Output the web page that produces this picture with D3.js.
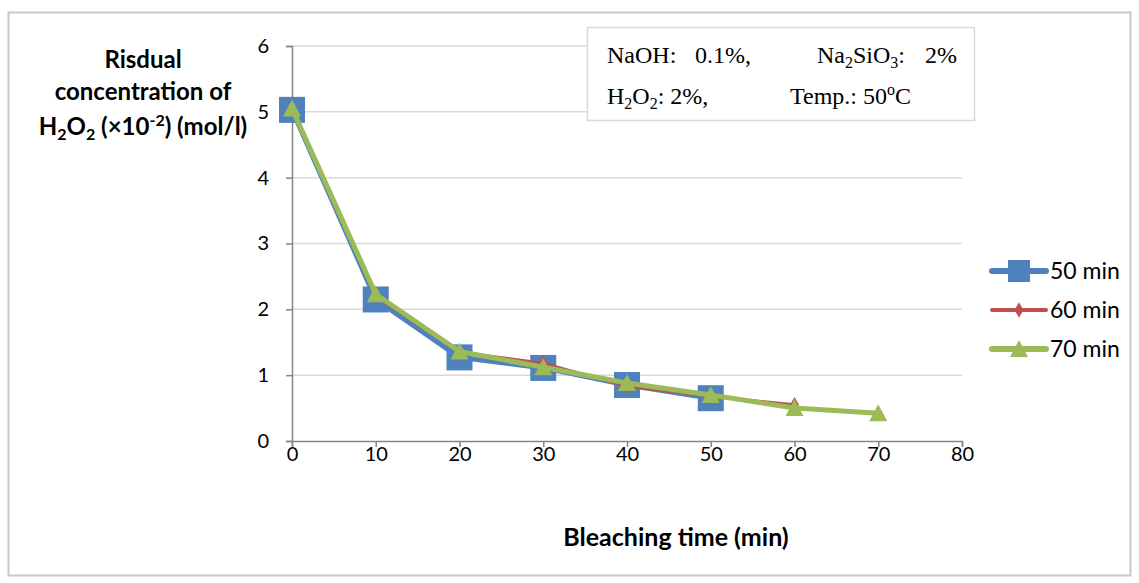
<!DOCTYPE html>
<html>
<head>
<meta charset="utf-8">
<script src="https://cdn.jsdelivr.net/npm/d3@7"></script>
<style>
  body { margin: 0; background: #fff; }
  svg { display: block; }
</style>
</head>
<body>
<svg class="chart" width="1139" height="583"></svg>
<script>
// data
const times = [0, 10, 20, 30, 40, 50, 60, 70];
const series50 = [5.03, 2.15, 1.27, 1.11, 0.85, 0.65];
const series60 = [5.05, 2.2, 1.35, 1.18, 0.83, 0.68, 0.55];
const series70 = [5.05, 2.23, 1.36, 1.12, 0.88, 0.7, 0.5, 0.42];
const seriesNames = ['50 min', '60 min', '70 min'];
const xTicks = [0, 10, 20, 30, 40, 50, 60, 70, 80];
const yTicks = [0, 1, 2, 3, 4, 5, 6];

const svg = d3.select('svg.chart');
const font = 'Lato, "Open Sans", sans-serif';

// outer frame
svg.append('rect')
  .attr('x', 8.5).attr('y', 12.5)
  .attr('width', 1122).attr('height', 563)
  .style('fill', 'none').style('stroke', '#c8c8c8').style('stroke-width', 2);

const x = d3.scaleLinear().domain([0, 80]).range([292, 962]);
const y = d3.scaleLinear().domain([0, 6]).range([441, 46]);

// gridlines
svg.append('g').selectAll('line')
  .data(yTicks.filter(d => d > 0))
  .enter().append('line')
  .attr('x1', x(0)).attr('x2', x(80))
  .attr('y1', d => y(d)).attr('y2', d => y(d))
  .style('stroke', '#d9d9d9').style('stroke-width', 1.5);

// axes
const yAxis = d3.axisLeft(y).tickValues(yTicks).tickSize(6).tickPadding(17).tickFormat(d3.format('d'));
const xAxis = d3.axisBottom(x).tickValues(xTicks).tickSize(6).tickPadding(-1).tickFormat(d3.format('d'));

const gy = svg.append('g').attr('transform', 'translate(' + x(0) + ',0)').call(yAxis);
const gx = svg.append('g').attr('transform', 'translate(0,' + y(0) + ')').call(xAxis);

[gx, gy].forEach(g => {
  g.select('.domain').style('stroke', '#868686').style('stroke-width', 1.5);
  g.selectAll('.tick line').style('stroke', '#868686').style('stroke-width', 1.5);
  g.selectAll('.tick text')
    .style('font-family', font).style('font-size', '20px').style('fill', '#000');
});
gx.selectAll('.tick text').attr('y', 6);

// series
const colors = ['#4f81bd', '#c0504d', '#9bbb59'];
const widths = [5, 3, 5];
const allSeries = [series50, series60, series70];

const line = d3.line()
  .x((d, i) => x(times[i]))
  .y(d => y(d));

function drawMarker(g, kind, color, cx, cy) {
  if (kind === 0) {
    g.append('rect')
      .attr('x', cx - 13).attr('y', cy - 13)
      .attr('width', 26).attr('height', 26)
      .style('fill', color);
  } else if (kind === 1) {
    g.append('path')
      .attr('d', d3.symbol().type(d3.symbolDiamond).size(70)())
      .attr('transform', 'translate(' + cx + ',' + cy + ')')
      .style('fill', color);
  } else {
    g.append('path')
      .attr('d', 'M0,-9 L9,8 L-9,8 Z')
      .attr('transform', 'translate(' + cx + ',' + cy + ')')
      .style('fill', color);
  }
}

allSeries.forEach((vals, k) => {
  const g = svg.append('g');
  g.append('path')
    .datum(vals)
    .attr('d', line)
    .style('fill', 'none')
    .style('stroke', colors[k])
    .style('stroke-width', widths[k])
    .style('stroke-linejoin', 'round');
  vals.forEach((v, i) => drawMarker(g, k, colors[k], x(times[i]), y(v)));
});

// legend
const legendY = [271, 310, 349];
seriesNames.forEach((name, k) => {
  const g = svg.append('g');
  g.append('line')
    .attr('x1', 992).attr('x2', 1046)
    .attr('y1', legendY[k]).attr('y2', legendY[k])
    .style('stroke', colors[k]).style('stroke-width', widths[k] + 1)
    .style('stroke-linecap', 'round');
  if (k === 0) {
    g.append('rect').attr('x', 1008).attr('y', legendY[k] - 11)
      .attr('width', 22).attr('height', 22).style('fill', colors[k]);
  } else {
    drawMarker(g, k, colors[k], 1019, legendY[k]);
  }
  g.append('text')
    .attr('x', 1050).attr('y', legendY[k])
    .attr('dy', '0.36em')
    .style('font-family', font).style('font-size', '23px')
    .text(name);
});

// annotation box
svg.append('rect')
  .attr('x', 587.5).attr('y', 27.5)
  .attr('width', 387).attr('height', 93)
  .style('fill', '#fff').style('stroke', '#d9d9d9').style('stroke-width', 1.5);

const serif = '"Liberation Serif", "Times New Roman", serif';
function richText(xPos, yPos, parts) {
  const t = svg.append('text')
    .attr('x', xPos).attr('y', yPos)
    .style('font-family', serif).style('font-size', '24px')
    .style('white-space', 'pre');
  parts.forEach(p => {
    const s = t.append('tspan').text(p[0]);
    if (p[1] === 'sub') s.attr('dy', 5).style('font-size', '16px');
    if (p[1] === 'sup') s.attr('dy', -9).style('font-size', '16px');
    if (p[1] === 'back') s.attr('dy', p[2]);
  });
}
richText(607, 63, [['NaOH:']]);
richText(695, 63, [['0.1%,']]);
richText(817, 63, [['Na'], ['2', 'sub'], ['SiO', 'back', -5], ['3', 'sub'], [':', 'back', -5]]);
richText(925, 63, [['2%']]);
richText(607, 104, [['H'], ['2', 'sub'], ['O', 'back', -5], ['2', 'sub'], [': 2%,', 'back', -5]]);
richText(790, 104, [['Temp.: 50'], ['o', 'sup'], ['C', 'back', 9]]);

// y axis title
const titleFont = 'Lato, "Open Sans", sans-serif';
const yt = svg.append('text')
  .attr('text-anchor', 'middle')
  .style('font-family', titleFont).style('font-size', '24px').style('font-weight', 'bold');
yt.append('tspan').attr('x', 143).attr('y', 68).text('Risdual');
yt.append('tspan').attr('x', 143).attr('y', 100).text('concentration of');
const l3 = svg.append('text')
  .attr('x', 143).attr('y', 135)
  .attr('text-anchor', 'middle')
  .style('font-family', titleFont).style('font-size', '24px').style('font-weight', 'bold');
l3.append('tspan').text('H');
l3.append('tspan').attr('dy', 5).style('font-size', '16px').text('2');
l3.append('tspan').attr('dy', -5).text('O');
l3.append('tspan').attr('dy', 5).style('font-size', '16px').text('2');
l3.append('tspan').attr('dy', -5).text(' (×10');
l3.append('tspan').attr('dy', -9).style('font-size', '16px').text('-2');
l3.append('tspan').attr('dy', 9).text(') (mol/l)');

// x axis title
svg.append('text')
  .attr('x', 676).attr('y', 546)
  .attr('text-anchor', 'middle')
  .style('font-family', titleFont).style('font-size', '25px').style('font-weight', 'bold')
  .text('Bleaching time (min)');
</script>
</body>
</html>
